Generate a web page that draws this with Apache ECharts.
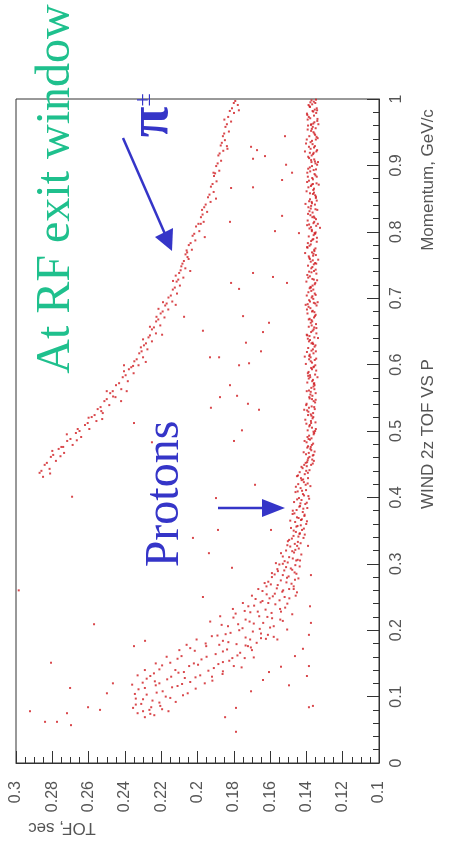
<!DOCTYPE html>
<html>
<head>
<meta charset="utf-8">
<script src="https://cdn.jsdelivr.net/npm/echarts@6/dist/echarts.min.js"></script>
<style>
  html, body { margin: 0; padding: 0; background: #fff; }
  #chart { width: 456px; height: 847px; }
</style>
</head>
<body>
<div id="chart"></div>
<script>
// Each point: [time of flight (s), momentum (GeV/c)]
const protons = [
  [0.1372,0.998],[0.1351,0.994],[0.1388,0.991],[0.1343,0.986],[0.1366,0.982],[0.1397,0.978],[0.1358,0.975],[0.1379,0.971],[0.1340,0.967],[0.1362,0.963],
  [0.1391,0.960],[0.1349,0.956],[0.1374,0.952],[0.1356,0.948],[0.1384,0.944],[0.1338,0.941],[0.1369,0.937],[0.1402,0.933],[0.1353,0.929],[0.1377,0.925],
  [0.1345,0.921],[0.1363,0.917],[0.1390,0.913],[0.1357,0.909],[0.1372,0.905],[0.1341,0.901],[0.1381,0.897],[0.1360,0.893],[0.1395,0.889],[0.1350,0.885],
  [0.1368,0.881],[0.1386,0.877],[0.1344,0.873],[0.1375,0.869],[0.1358,0.865],[0.1399,0.861],[0.1364,0.857],[0.1347,0.853],[0.1380,0.849],[0.1371,0.845],
  [0.1353,0.841],[0.1389,0.837],[0.1340,0.833],[0.1366,0.829],[0.1378,0.825],[0.1355,0.821],[0.1393,0.817],[0.1361,0.813],[0.1346,0.809],[0.1383,0.805],
  [0.1370,0.801],[0.1352,0.797],[0.1387,0.793],[0.1362,0.789],[0.1343,0.785],[0.1376,0.781],[0.1396,0.777],[0.1357,0.773],[0.1369,0.769],[0.1348,0.765],
  [0.1384,0.761],[0.1365,0.757],[0.1352,0.753],[0.1391,0.749],[0.1373,0.745],[0.1358,0.741],[0.1345,0.737],[0.1381,0.733],[0.1367,0.729],[0.1400,0.725],
  [0.1354,0.721],[0.1377,0.717],[0.1362,0.713],[0.1389,0.709],[0.1349,0.705],[0.1371,0.701],[0.1385,0.697],[0.1359,0.693],[0.1344,0.689],[0.1378,0.685],
  [0.1365,0.681],[0.1394,0.677],[0.1353,0.673],[0.1382,0.669],[0.1368,0.665],[0.1347,0.661],[0.1387,0.657],[0.1360,0.653],[0.1374,0.649],[0.1398,0.645],
  [0.1356,0.641],[0.1380,0.637],[0.1366,0.633],[0.1350,0.629],[0.1390,0.625],[0.1372,0.621],[0.1361,0.617],[0.1384,0.613],[0.1346,0.609],[0.1376,0.605],
  [0.1403,0.601],[0.1358,0.597],[0.1369,0.593],[0.1388,0.589],[0.1352,0.585],[0.1379,0.581],[0.1364,0.577],[0.1395,0.573],[0.1355,0.569],[0.1373,0.565],
  [0.1386,0.561],[0.1349,0.557],[0.1367,0.553],[0.1382,0.549],[0.1360,0.545],[0.1399,0.541],[0.1371,0.537],[0.1354,0.533],[0.1389,0.529],[0.1376,0.525],
  [0.1362,0.521],[0.1406,0.517],[0.1350,0.513],[0.1381,0.509],[0.1369,0.505],[0.1393,0.501],[0.1357,0.497],[0.1385,0.493],[0.1372,0.489],[0.1410,0.485],
  [0.1363,0.481],[0.1391,0.477],[0.1378,0.473],[0.1355,0.469],[0.1402,0.465],[0.1383,0.461],[0.1368,0.457],[0.1396,0.453],[0.1374,0.449],
  [0.1359,0.996],[0.1380,0.988],[0.1346,0.979],[0.1393,0.969],[0.1365,0.958],[0.1352,0.946],[0.1377,0.935],[0.1341,0.923],[0.1385,0.911],[0.1369,0.899],
  [0.1355,0.887],[0.1396,0.875],[0.1362,0.863],[0.1348,0.851],[0.1374,0.839],[0.1391,0.827],[0.1357,0.815],[0.1370,0.803],[0.1342,0.791],[0.1383,0.779],
  [0.1361,0.767],[0.1376,0.755],[0.1349,0.743],[0.1390,0.731],[0.1366,0.719],[0.1354,0.707],[0.1380,0.695],[0.1397,0.683],[0.1358,0.671],[0.1371,0.659],
  [0.1345,0.647],[0.1386,0.635],[0.1364,0.623],[0.1377,0.611],[0.1351,0.599],[0.1392,0.587],[0.1368,0.575],[0.1356,0.563],[0.1384,0.551],[0.1401,0.539],
  [0.1363,0.527],[0.1375,0.515],[0.1348,0.503],[0.1394,0.491],[0.1370,0.479],[0.1387,0.467],[0.1359,0.455],
  [0.1368,0.992],[0.1354,0.984],[0.1387,0.973],[0.1373,0.962],[0.1361,0.950],[0.1398,0.939],[0.1358,0.927],[0.1371,0.915],[0.1350,0.903],[0.1379,0.891],
  [0.1364,0.879],[0.1389,0.867],[0.1352,0.855],[0.1369,0.843],[0.1383,0.831],[0.1347,0.819],[0.1375,0.807],[0.1360,0.795],[0.1392,0.783],[0.1356,0.771],
  [0.1381,0.759],[0.1367,0.747],[0.1395,0.735],[0.1351,0.723],[0.1373,0.711],[0.1362,0.699],[0.1388,0.687],[0.1349,0.675],[0.1376,0.663],[0.1366,0.651],
  [0.1392,0.639],[0.1355,0.627],[0.1382,0.615],[0.1369,0.603],[0.1346,0.591],[0.1387,0.579],[0.1361,0.567],[0.1378,0.555],[0.1352,0.543],[0.1396,0.531],
  [0.1366,0.519],[0.1384,0.507],[0.1360,0.495],[0.1399,0.483],[0.1373,0.471],[0.1390,0.459],[0.1365,0.451],
  [0.1347,0.999],[0.1383,0.989],[0.1362,0.981],[0.1339,0.970],[0.1375,0.961],[0.1393,0.954],[0.1344,0.943],[0.1366,0.932],[0.1381,0.919],[0.1353,0.906],
  [0.1390,0.895],[0.1343,0.883],[0.1371,0.871],[0.1358,0.859],[0.1385,0.846],[0.1350,0.834],[0.1367,0.822],[0.1396,0.810],[0.1355,0.798],[0.1374,0.786],
  [0.1350,0.775],[0.1387,0.763],[0.1359,0.751],[0.1372,0.739],[0.1341,0.727],[0.1382,0.715],[0.1367,0.703],[0.1393,0.691],[0.1356,0.679],[0.1372,0.667],
  [0.1345,0.655],[0.1383,0.643],[0.1363,0.631],[0.1397,0.619],[0.1354,0.607],[0.1374,0.595],[0.1390,0.583],[0.1359,0.571],[0.1376,0.559],[0.1349,0.547],
  [0.1386,0.535],[0.1372,0.523],[0.1400,0.511],[0.1361,0.499],[0.1380,0.487],[0.1395,0.475],[0.1365,0.463],[0.1404,0.452],
  [0.1378,0.995],[0.1341,0.983],[0.1395,0.976],[0.1356,0.965],[0.1370,0.955],[0.1348,0.939],[0.1386,0.928],[0.1360,0.919],[0.1374,0.908],[0.1347,0.894],
  [0.1392,0.883],[0.1364,0.872],[0.1380,0.858],[0.1343,0.847],[0.1376,0.835],[0.1359,0.823],[0.1385,0.811],[0.1349,0.799],[0.1367,0.788],[0.1394,0.776],
  [0.1363,0.764],[0.1346,0.752],[0.1385,0.740],[0.1359,0.728],[0.1376,0.716],[0.1398,0.704],[0.1351,0.692],[0.1369,0.680],[0.1387,0.668],[0.1357,0.656],
  [0.1395,0.644],[0.1372,0.632],[0.1348,0.620],[0.1385,0.608],[0.1362,0.596],[0.1380,0.584],[0.1357,0.572],[0.1398,0.560],[0.1369,0.548],[0.1357,0.536],
  [0.1391,0.524],[0.1374,0.512],[0.1352,0.500],[0.1388,0.488],[0.1376,0.476],[0.1361,0.464],[0.1393,0.456],
  [0.1334,0.962],[0.1336,0.905],[0.1332,0.871],[0.1337,0.812],[0.1335,0.758],[0.1338,0.694],[0.1336,0.640],[0.1339,0.581],[0.1408,0.921],[0.1405,0.842],
  [0.1407,0.768],[0.1404,0.690],[0.1409,0.612],[0.1412,0.532],[0.1415,0.468],
  [0.1398,0.447],[0.1421,0.444],[0.1383,0.441],[0.1437,0.438],[0.1409,0.435],[0.1452,0.432],[0.1391,0.429],[0.1426,0.426],[0.1414,0.423],[0.1445,0.420],
  [0.1378,0.417],[0.1432,0.414],[0.1402,0.411],[0.1460,0.408],[0.1419,0.405],[0.1389,0.402],[0.1441,0.399],[0.1427,0.396],[0.1468,0.393],[0.1406,0.390],
  [0.1435,0.387],[0.1395,0.384],[0.1454,0.381],[0.1420,0.378],[0.1476,0.375],[0.1411,0.372],[0.1443,0.369],[0.1430,0.366],[0.1462,0.363],[0.1401,0.360],
  [0.1449,0.357],[0.1485,0.354],[0.1424,0.351],[0.1458,0.348],[0.1438,0.345],[0.1471,0.342],[0.1416,0.339],[0.1495,0.336],[0.1447,0.333],[0.1464,0.330],
  [0.1412,0.449],[0.1392,0.437],[0.1430,0.429],[0.1404,0.419],[0.1448,0.409],[0.1385,0.398],[0.1433,0.391],[0.1417,0.383],[0.1466,0.376],[0.1425,0.367],
  [0.1397,0.364],[0.1455,0.356],[0.1436,0.346],[0.1480,0.338],[0.1409,0.344],[0.1451,0.327],
  [0.1427,0.446],[0.1401,0.440],[0.1446,0.433],[0.1418,0.427],[0.1393,0.421],[0.1458,0.416],[0.1424,0.410],[0.1413,0.403],[0.1451,0.397],[0.1398,0.392],
  [0.1439,0.386],[0.1475,0.380],[0.1410,0.374],[0.1452,0.370],[0.1489,0.365],[0.1431,0.358],[0.1414,0.353],[0.1470,0.350],[0.1444,0.341],[0.1502,0.334],
  [0.1432,0.331],
  [0.1489,0.326],[0.1442,0.323],[0.1512,0.320],[0.1468,0.317],[0.1428,0.314],[0.1530,0.311],[0.1475,0.308],[0.1456,0.305],[0.1503,0.302],[0.1549,0.299],
  [0.1437,0.296],[0.1486,0.293],[0.1522,0.290],[0.1465,0.287],[0.1575,0.284],[0.1498,0.281],[0.1444,0.278],[0.1541,0.275],[0.1510,0.272],[0.1596,0.269],
  [0.1470,0.266],[0.1563,0.263],[0.1528,0.260],[0.1452,0.257],[0.1619,0.254],[0.1585,0.251],[0.1494,0.248],[0.1548,0.245],[0.1652,0.242],
  [0.1478,0.319],[0.1520,0.304],[0.1461,0.298],[0.1557,0.289],[0.1507,0.279],[0.1482,0.270],[0.1620,0.266],[0.1533,0.258],[0.1603,0.248],[0.1459,0.252],
  [0.1505,0.328],[0.1461,0.321],[0.1540,0.316],[0.1495,0.310],[0.1448,0.306],[0.1568,0.301],[0.1512,0.295],[0.1478,0.291],[0.1590,0.286],[0.1530,0.283],
  [0.1463,0.276],[0.1610,0.273],[0.1558,0.268],[0.1495,0.262],[0.1642,0.259],[0.1574,0.255],[0.1520,0.250],[0.1680,0.247],
  [0.1571,0.239],[0.1688,0.237],[0.1517,0.234],[0.1625,0.231],[0.1740,0.229],[0.1592,0.226],[0.1478,0.224],[0.1660,0.221],[0.1802,0.219],[0.1544,0.216],
  [0.1713,0.213],[0.1638,0.211],[0.1867,0.208],[0.1580,0.206],[0.1752,0.203],[0.1506,0.201],[0.1695,0.198],[0.1818,0.196],[0.1612,0.193],[0.1921,0.191],
  [0.1735,0.189],[0.1560,0.186],[0.1860,0.184],[0.1674,0.181],[0.1785,0.179],
  [0.1642,0.244],[0.1709,0.227],[0.1589,0.218],[0.1776,0.209],[0.1657,0.202],[0.1845,0.194],[0.1623,0.187],[0.1722,0.176],
  [0.1610,0.241],[0.1720,0.236],[0.1545,0.232],[0.1668,0.228],[0.1790,0.225],[0.1615,0.220],[0.1735,0.216],[0.1530,0.214],[0.1690,0.210],[0.1832,0.206],
  [0.1600,0.204],[0.1770,0.200],[0.1650,0.195],[0.1890,0.192],[0.1580,0.190],[0.1710,0.186],[0.1830,0.182],[0.1955,0.180],
  [0.1930,0.213],[0.1875,0.221],[0.1805,0.232],[0.1750,0.241],[0.1700,0.252],[0.1665,0.262],[0.1630,0.271],[0.1590,0.280],[0.1560,0.292],[0.1530,0.300],
  [0.1540,0.228],[0.1505,0.240],[0.1470,0.262],[0.1455,0.285],[0.1435,0.305],
  [0.1952,0.176],[0.1706,0.174],[0.1837,0.171],[0.2015,0.169],[0.1765,0.166],[0.1900,0.164],[0.2088,0.161],[0.1690,0.159],[0.1978,0.156],[0.1825,0.154],
  [0.2150,0.151],[0.1885,0.149],[0.2046,0.146],[0.1757,0.144],[0.2210,0.141],[0.1940,0.139],[0.2105,0.136],[0.1862,0.134],[0.2260,0.131],[0.2011,0.129],
  [0.2167,0.126],[0.1918,0.124],[0.2302,0.121],
  [0.1808,0.158],[0.1997,0.148],[0.2122,0.140],[0.2070,0.128],[0.2235,0.123],
  [0.1880,0.178],[0.1735,0.177],[0.2040,0.173],[0.1860,0.168],[0.1780,0.162],[0.1950,0.160],[0.2110,0.157],[0.1860,0.152],[0.2020,0.150],[0.2195,0.147],
  [0.1910,0.143],[0.2075,0.137],[0.2240,0.135],[0.1985,0.132],[0.2145,0.130],[0.2280,0.127],[0.2040,0.122],
  [0.2005,0.186],[0.2060,0.178],[0.2100,0.170],[0.2170,0.160],[0.2230,0.150],[0.2290,0.140],[0.2330,0.132],[0.2360,0.118],
  [0.1650,0.188],[0.1700,0.170],[0.1740,0.158],[0.1800,0.146],[0.1860,0.138],[0.1920,0.130],[0.1960,0.120],[0.2010,0.112],[0.2080,0.102],
  [0.2085,0.119],[0.2230,0.117],[0.2140,0.114],[0.2325,0.111],[0.2192,0.108],[0.2054,0.105],[0.2280,0.103],[0.2175,0.100],[0.2340,0.097],[0.2248,0.094],
  [0.2120,0.092],[0.2310,0.089],[0.2205,0.086],[0.2355,0.083],[0.2265,0.080],[0.2160,0.078],[0.2330,0.075],[0.2238,0.072],[0.2290,0.069],
  [0.2210,0.120],[0.2110,0.116],[0.2290,0.113],[0.2225,0.106],[0.2345,0.104],[0.2150,0.098],[0.2300,0.096],[0.2210,0.091],[0.2340,0.088],[0.2255,0.084],
  [0.2195,0.081],[0.2300,0.078],[0.2260,0.074]
];

const pions = [
  [0.1792,0.997],[0.1778,0.991],[0.1810,0.986],[0.1799,0.979],[0.1831,0.973],[0.1815,0.966],[0.1846,0.958],[0.1827,0.951],[0.1860,0.944],[0.1849,0.938],
  [0.1872,0.930],[0.1858,0.922],[0.1885,0.915],[0.1870,0.907],[0.1897,0.899],[0.1880,0.892],[0.1909,0.884],[0.1895,0.876],[0.1926,0.868],[0.1911,0.860],
  [0.1942,0.852],[0.1928,0.845],[0.1963,0.837],[0.1947,0.830],[0.1981,0.822],[0.1966,0.815],[0.2008,0.808],[0.1990,0.801],[0.2027,0.794],[0.2012,0.787],
  [0.2048,0.780],[0.2031,0.773],[0.2066,0.766],[0.2049,0.759],[0.2083,0.752],[0.2067,0.745],[0.2101,0.738],[0.2078,0.731],[0.2115,0.725],[0.2097,0.719],
  [0.2136,0.713],[0.2113,0.707],[0.2160,0.701],[0.2139,0.695],[0.2178,0.689],[0.2161,0.683],[0.2203,0.677],[0.2182,0.671],[0.2228,0.665],[0.2205,0.659],
  [0.2251,0.653],[0.2229,0.647],[0.2270,0.641],[0.2251,0.635],[0.2295,0.629],[0.2276,0.623],[0.2321,0.617],[0.2300,0.611],[0.2348,0.605],[0.2325,0.599],
  [0.2378,0.593],[0.2352,0.587],[0.2412,0.581],[0.2384,0.575],[0.2449,0.569],[0.2420,0.563],[0.2481,0.557],[0.2452,0.551],[0.2513,0.545],[0.2486,0.539],
  [0.2550,0.533],[0.2522,0.527],[0.2583,0.521],[0.2557,0.515],[0.2620,0.509],[0.2596,0.503],[0.2670,0.497],[0.2641,0.491],[0.2718,0.485],[0.2688,0.479],
  [0.2765,0.473],[0.2735,0.467],[0.2808,0.461],[0.2780,0.455],[0.2842,0.449],[0.2815,0.443],[0.2870,0.437],[0.2851,0.431],
  [0.2055,0.762],[0.2190,0.694],[0.2262,0.657],[0.2355,0.598],[0.2465,0.552],[0.2660,0.503],[0.2120,0.734],[0.1975,0.833],[0.1835,0.925],[0.2089,0.748],
  [0.2226,0.672],[0.2312,0.626],[0.2405,0.590],[0.2530,0.530],[0.2740,0.476],
  [0.1800,0.994],[0.1822,0.982],[0.1838,0.962],[0.1853,0.948],[0.1866,0.934],[0.1878,0.918],[0.1889,0.903],[0.1903,0.888],[0.1917,0.872],[0.1934,0.856],
  [0.1955,0.841],[0.1972,0.826],[0.1995,0.812],[0.2018,0.797],[0.2038,0.783],[0.2057,0.769],[0.2075,0.756],[0.2093,0.742],[0.2106,0.728],[0.2125,0.716],
  [0.2147,0.704],[0.2170,0.692],[0.2192,0.680],[0.2216,0.668],[0.2240,0.656],[0.2262,0.644],[0.2284,0.632],[0.2308,0.620],[0.2335,0.608],[0.2365,0.596],
  [0.2396,0.584],[0.2432,0.572],[0.2467,0.560],[0.2500,0.548],[0.2534,0.536],[0.2567,0.524],[0.2605,0.512],[0.2650,0.500],[0.2700,0.488],[0.2750,0.476],
  [0.2795,0.464],[0.2830,0.452],[0.2860,0.440],
  [0.1772,0.983],[0.1852,0.969],[0.1838,0.929],[0.1912,0.889],[0.1898,0.850],[0.1982,0.812],[0.1960,0.792],[0.2060,0.772],[0.2040,0.741],[0.2135,0.726],
  [0.2120,0.690],[0.2215,0.684],[0.2195,0.645],[0.2300,0.638],[0.2285,0.604],[0.2405,0.599],[0.2390,0.560],[0.2500,0.560],[0.2525,0.518],[0.2600,0.520],
  [0.2665,0.486],[0.2720,0.495],[0.2755,0.462],[0.2800,0.470],[0.2812,0.436]
];

const strays = [
  [0.1518,0.944],[0.1705,0.928],[0.1672,0.923],[0.1694,0.910],[0.1628,0.914],[0.1512,0.901],[0.1534,0.878],[0.1479,0.889],[0.1694,0.867],[0.1815,0.866],
  [0.1821,0.815],[0.1534,0.824],[0.1573,0.801],[0.1441,0.798],[0.1694,0.738],[0.1584,0.732],[0.1507,0.723],[0.1815,0.723],[0.1771,0.714],[0.1749,0.673],
  [0.1606,0.663],[0.1639,0.649],[0.1733,0.633],[0.1650,0.620],[0.1716,0.602],[0.1771,0.599],[0.1821,0.569],[0.1782,0.553],[0.1876,0.551],[0.1722,0.541],
  [0.1661,0.532],[0.1755,0.501],[0.1799,0.485],[0.1683,0.419],[0.2074,0.672],[0.1970,0.651],[0.1931,0.611],[0.1881,0.611],[0.1926,0.535],[0.2421,0.545],
  [0.2350,0.512],[0.2251,0.483],[0.2691,0.401],[0.1898,0.399],[0.1887,0.351],[0.2025,0.339],[0.1937,0.316],[0.1970,0.250],[0.2570,0.209],[0.2289,0.184],
  [0.2350,0.176],[0.2807,0.151],[0.2702,0.113],[0.2466,0.120],[0.2499,0.105],[0.2603,0.084],[0.2537,0.080],[0.2840,0.062],[0.2774,0.062],[0.2697,0.057],
  [0.2719,0.075],[0.2923,0.078],[0.1848,0.069],[0.1810,0.294],[0.1595,0.351],[0.1391,0.327],[0.1375,0.283],[0.1380,0.236],[0.1375,0.211],[0.1386,0.193],
  [0.1419,0.172],[0.1463,0.161],[0.1386,0.146],[0.1397,0.131],[0.1540,0.145],[0.1496,0.117],[0.1639,0.125],[0.1606,0.137],[0.1705,0.108],[0.1788,0.083],
  [0.1386,0.084],[0.1364,0.086],[0.1788,0.047],[0.1325,0.806],[0.2985,0.260]
];

// Axis ranges and tick steps
const tofRange = [0.1, 0.3];
const tofStep = 0.02;
const momentumRange = [0, 1];
const momentumStep = 0.1;

const dotColor = '#cf1a1f';
const axisColor = '#333';
const labelColor = '#555';
const inkBlue = '#3535c8';
const titleGreen = '#1fc08d';

const chart = echarts.init(document.getElementById('chart'), null, { renderer: 'canvas' });
const trim = v => String(parseFloat(v.toFixed(3)));

function dots(data) {
  return {
    type: 'scatter',
    data: data,
    symbol: 'rect',
    symbolSize: 2,
    itemStyle: { color: dotColor },
    silent: true
  };
}

function rotatedText(text, x, y, rotation, font, fill) {
  return {
    type: 'text', x: x, y: y, rotation: rotation, silent: true,
    style: { text: text, x: 0, y: 0, font: font, fill: fill,
             align: 'center', verticalAlign: 'middle',
             textAlign: 'center', textVerticalAlign: 'middle' }
  };
}

const option = {
  animation: false,
  backgroundColor: '#fff',
  grid: {
    left: 16, right: 77, top: 99, bottom: 84,
    show: true, borderColor: axisColor, borderWidth: 1, backgroundColor: 'transparent'
  },
  xAxis: {
    type: 'value', min: tofRange[0], max: tofRange[1], interval: tofStep,
    inverse: true, position: 'bottom',
    axisLine: { show: true, onZero: false, lineStyle: { color: axisColor, width: 1 } },
    axisTick: { show: true, inside: true, length: 12, lineStyle: { color: axisColor } },
    minorTick: { show: true, splitNumber: 4, length: 6, lineStyle: { color: axisColor } },
    splitLine: { show: false },
    axisLabel: { rotate: 90, margin: 18, fontSize: 16, color: labelColor,
                 fontFamily: 'Liberation Sans', formatter: trim }
  },
  yAxis: {
    type: 'value', min: momentumRange[0], max: momentumRange[1], interval: momentumStep,
    position: 'right',
    axisLine: { show: true, onZero: false, lineStyle: { color: axisColor, width: 1 } },
    axisTick: { show: true, inside: true, length: 12, lineStyle: { color: axisColor } },
    minorTick: { show: true, splitNumber: 5, length: 6, lineStyle: { color: axisColor } },
    splitLine: { show: false },
    axisLabel: { rotate: 90, margin: 10, fontSize: 16, color: labelColor,
                 fontFamily: 'Liberation Sans', formatter: trim }
  },
  series: [dots(protons), dots(pions), dots(strays)],
  graphic: [
    rotatedText('At RF exit window', 56, 189, Math.PI / 2, '48px "Liberation Serif"', titleGreen),
    rotatedText('Protons', 165, 494, Math.PI / 2, '48px "Liberation Serif"', inkBlue),
    rotatedText('π', 153, 122, Math.PI / 2, 'bold 56px "Liberation Serif"', inkBlue),
    rotatedText('±', 144, 100, Math.PI / 2, '24px "Liberation Serif"', inkBlue),
    rotatedText('Momentum, GeV/c', 428, 180, Math.PI / 2, '17px "Liberation Sans"', labelColor),
    rotatedText('WIND 2z TOF VS P', 428, 434, Math.PI / 2, '17px "Liberation Sans"', labelColor),
    rotatedText('TOF, sec', 62, 828, Math.PI, '17px "Liberation Sans"', labelColor),
    { type: 'line', silent: true, shape: { x1: 123, y1: 138, x2: 165, y2: 234 },
      style: { stroke: inkBlue, lineWidth: 2.5 } },
    { type: 'polygon', silent: true, shape: { points: [[172, 251], [155, 237], [173, 228]] },
      style: { fill: inkBlue } },
    { type: 'line', silent: true, shape: { x1: 218, y1: 508, x2: 266, y2: 508 },
      style: { stroke: inkBlue, lineWidth: 2.5 } },
    { type: 'polygon', silent: true, shape: { points: [[285, 508], [262, 499], [262, 517]] },
      style: { fill: inkBlue } }
  ]
};

chart.setOption(option);
</script>
</body>
</html>
